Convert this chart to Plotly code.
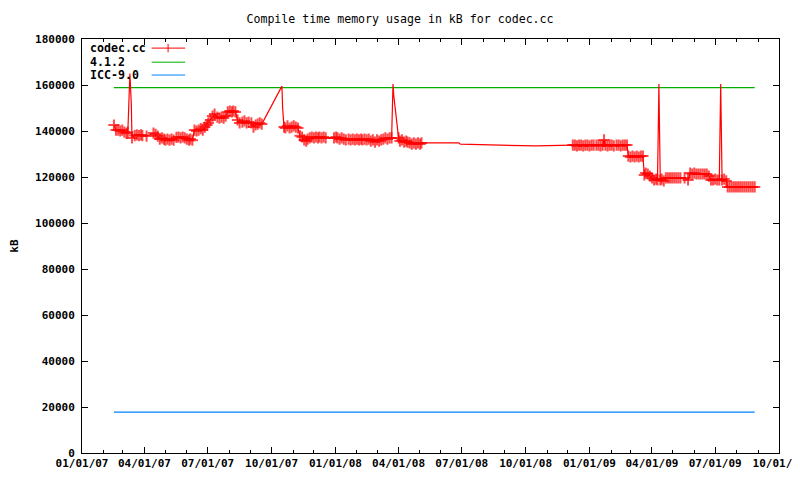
import pandas as pd
import plotly.graph_objects as go

# codec.cc compile memory samples (kB)
dates = [
    "2007-02-16", "2007-02-19", "2007-02-22", "2007-02-25", "2007-02-28", "2007-03-03", "2007-03-06", "2007-03-08",
    "2007-03-09", "2007-03-10", "2007-03-11", "2007-03-13", "2007-03-14", "2007-03-18", "2007-03-21", "2007-03-24",
    "2007-03-27", "2007-03-29", "2007-04-04", "2007-04-14", "2007-04-17", "2007-04-20", "2007-04-23", "2007-04-26",
    "2007-04-29", "2007-05-01", "2007-05-04", "2007-05-07", "2007-05-10", "2007-05-13", "2007-05-17", "2007-05-20",
    "2007-05-23", "2007-05-26", "2007-05-29", "2007-06-01", "2007-06-04", "2007-06-06", "2007-06-09", "2007-06-12",
    "2007-06-15", "2007-06-18", "2007-06-21", "2007-06-24", "2007-06-27", "2007-06-30", "2007-07-02", "2007-07-05",
    "2007-07-08", "2007-07-11", "2007-07-15", "2007-07-18", "2007-07-21", "2007-07-24", "2007-07-27", "2007-07-30",
    "2007-08-02", "2007-08-05", "2007-08-07", "2007-08-10", "2007-08-13", "2007-08-16", "2007-08-20", "2007-08-23",
    "2007-08-26", "2007-08-29", "2007-09-02", "2007-09-05", "2007-09-08", "2007-09-11", "2007-09-14", "2007-09-17",
    "2007-10-16", "2007-10-17", "2007-10-19", "2007-10-21", "2007-10-24", "2007-10-27", "2007-10-30", "2007-11-02",
    "2007-11-05", "2007-11-08", "2007-11-11", "2007-11-14", "2007-11-17", "2007-11-20", "2007-11-22", "2007-11-25",
    "2007-11-28", "2007-12-01", "2007-12-04", "2007-12-07", "2007-12-09", "2007-12-12", "2007-12-15", "2007-12-18",
    "2007-12-30", "2008-01-02", "2008-01-04", "2008-01-07", "2008-01-10", "2008-01-13", "2008-01-16", "2008-01-20",
    "2008-01-23", "2008-01-26", "2008-01-29", "2008-02-01", "2008-02-04", "2008-02-07", "2008-02-09", "2008-02-12",
    "2008-02-15", "2008-02-18", "2008-02-21", "2008-02-24", "2008-02-27", "2008-03-01", "2008-03-04", "2008-03-07",
    "2008-03-10", "2008-03-13", "2008-03-16", "2008-03-19", "2008-03-22", "2008-03-23", "2008-03-24", "2008-03-25",
    "2008-03-27", "2008-03-29", "2008-03-31", "2008-04-01", "2008-04-03", "2008-04-06", "2008-04-09", "2008-04-12",
    "2008-04-14", "2008-04-17", "2008-04-20", "2008-04-23", "2008-04-26", "2008-04-29", "2008-05-02", "2008-05-04",
    "2008-06-27", "2008-06-29", "2008-10-15",
    "2008-12-08", "2008-12-11", "2008-12-14", "2008-12-17", "2008-12-20", "2008-12-23", "2008-12-26", "2008-12-29",
    "2009-01-01", "2009-01-04", "2009-01-07", "2009-01-11", "2009-01-14", "2009-01-17", "2009-01-20", "2009-01-22",
    "2009-01-24", "2009-01-27", "2009-01-30", "2009-02-02", "2009-02-05", "2009-02-09", "2009-02-12", "2009-02-15",
    "2009-02-18", "2009-02-21", "2009-02-24", "2009-02-26", "2009-03-01", "2009-03-04", "2009-03-07", "2009-03-10",
    "2009-03-13", "2009-03-16", "2009-03-19", "2009-03-21", "2009-03-23", "2009-03-26", "2009-03-29", "2009-04-01",
    "2009-04-04", "2009-04-07", "2009-04-09", "2009-04-10", "2009-04-11", "2009-04-12", "2009-04-13", "2009-04-15",
    "2009-04-18", "2009-04-21", "2009-04-24", "2009-04-27", "2009-04-30", "2009-05-03", "2009-05-06", "2009-05-09",
    "2009-05-12", "2009-05-18", "2009-05-23", "2009-05-26", "2009-05-29", "2009-06-01", "2009-06-04", "2009-06-07",
    "2009-06-10", "2009-06-13", "2009-06-16", "2009-06-19", "2009-06-22", "2009-06-25", "2009-06-28", "2009-07-01",
    "2009-07-04", "2009-07-07", "2009-07-09", "2009-07-10", "2009-07-11", "2009-07-14", "2009-07-17", "2009-07-19",
    "2009-07-22", "2009-07-25", "2009-07-28", "2009-07-31", "2009-08-03", "2009-08-06", "2009-08-09", "2009-08-12",
    "2009-08-15", "2009-08-18", "2009-08-21", "2009-08-24", "2009-08-27",
]
mem_kb = [
    142600, 140400, 140400, 140000, 140400, 139500, 139000, 139500,
    152000, 165000, 165000, 152000, 137000, 138000, 138300, 138000,
    138300, 138000, 137800, 139100, 138500, 137800, 136500, 137000,
    136500, 136000, 136500, 136000, 136500, 136000, 137200, 137400,
    137000, 137400, 137000, 136500, 136000, 136500, 136000, 140400,
    140000, 140400, 141000, 140400, 141700, 142600, 143500, 144800,
    146500, 147400, 146000, 145600, 146000, 145600, 146500, 148300,
    148700, 148300, 148700, 148300, 144800, 143500, 143900, 144400,
    143500, 143900, 143500, 141700, 142600, 143000, 143500, 143000,
    159500, 150000, 141700, 141300, 142200, 141300, 141700, 142200,
    141700, 141300, 137900, 137400, 136100, 135600, 136500, 137000,
    137400, 137000, 137400, 137000, 137400, 137000, 137400, 137000,
    137000, 137400, 137000, 136500, 137000, 136500, 136100, 136500,
    136100, 136500, 136100, 136500, 136100, 136500, 136100, 136500,
    136100, 136500, 135600, 136100, 135200, 136100, 135600, 136100,
    136500, 137000, 136500, 137000, 137000, 160400, 160400, 155600,
    150400, 144800, 139600, 137000, 135600, 136100, 135200, 135600,
    135200, 134800, 134300, 134800, 134300, 134800, 134300, 134800,
    134800, 134300, 133500,
    133900, 133900, 133500, 133900, 133900, 133500, 133900, 133900,
    133500, 133900, 133900, 133900, 133900, 133500, 133900, 136100,
    133900, 133500, 133900, 133900, 133500, 133900, 133900, 133500,
    133900, 133900, 133900, 129100, 128700, 129100, 128700, 129100,
    128700, 129100, 129100, 120900, 121700, 121300, 120400, 119600,
    118700, 119100, 118700, 138700, 160400, 138700, 118700, 119100,
    118300, 119600, 119600, 119600, 119600, 119600, 119600, 119600,
    119600, 119600, 118700, 121700, 121300, 121700, 121300, 121300,
    121300, 121300, 121300, 121300, 120400, 118700, 118700, 119100,
    118700, 118700, 160400, 139100, 118700, 119100, 118300, 115700,
    115700, 115700, 115700, 115700, 115700, 115700, 115700, 115700,
    115700, 115700, 115700, 115700, 115700,
]

# samples on the spikes and in the 2008 gap show only as line, no point symbol
plain_dates = [
    "2007-03-09", "2007-03-10", "2007-03-11", "2007-03-13", "2007-10-16", "2007-10-17",
    "2008-03-23", "2008-03-24", "2008-03-25", "2008-03-27", "2008-03-29", "2008-03-31",
    "2008-06-27", "2008-06-29", "2008-10-15",
    "2009-04-10", "2009-04-11", "2009-04-12", "2009-07-09", "2009-07-10",
]

# reference compilers, flat over the whole period
ref_names = ["4.1.2", "ICC-9.0"]
ref_values = [158900, 17800]
ref_colors = ["#00b000", "#0080ff"]
ref_span = ["2007-02-16", "2009-08-27"]

legend_names = ["codec.cc"] + ref_names
legend_colors = ["#ff0000"] + ref_colors

df = pd.DataFrame({'date': dates, 'kB': mem_kb})
df['msize'] = [0 if d in plain_dates else 8 for d in df['date']]
df['date'] = pd.to_datetime(df['date'])

fig = go.Figure()
for name, val, col in zip(ref_names, ref_values, ref_colors):
    fig.add_trace(go.Scatter(name=name, x=pd.to_datetime(ref_span), y=[val, val],
                             mode='lines', line=dict(color=col, width=1.2)))
fig.add_trace(go.Scatter(
    name='codec.cc', x=df['date'], y=df['kB'], mode='lines+markers',
    line=dict(color='#ff0000', width=1.2),
    marker=dict(symbol='cross-thin', size=df['msize'], line=dict(color='#ff0000', width=2)),
))

mono = 'DejaVu Sans Mono'
axis_common = dict(showline=True, linecolor='black', linewidth=1, mirror='ticks',
                   ticks='inside', tickcolor='black', ticklen=6, showgrid=False,
                   zeroline=False, automargin=False,
                   tickfont=dict(family=mono, size=11, color='black', weight='bold'))

fig.update_xaxes(range=['2007-01-01', '2009-10-01'], dtick='M3', tick0='2007-01-01',
                 tickformat='%m/%d/%y',
                 minor=dict(dtick='M1', ticks='inside', ticklen=3, tickcolor='black'),
                 **axis_common)
fig.update_yaxes(range=[0, 180000], dtick=20000, tickformat='d', ticklabelstandoff=4,
                 title=dict(text='kB', standoff=14,
                            font=dict(family=mono, size=11, color='black', weight='bold')),
                 **axis_common)

# gnuplot-style key: text on the left, sample on the right
key_y = [0.978, 0.944, 0.913]
for name, col, ky in zip(legend_names, legend_colors, key_y):
    fig.add_annotation(xref='paper', yref='paper', x=0.009, y=ky, text=name, showarrow=False,
                       xanchor='left', yanchor='middle',
                       font=dict(family=mono, size=11.6, color='black', weight='bold'))
    fig.add_shape(type='line', xref='paper', yref='paper', x0=0.1, x1=0.148, y0=ky, y1=ky,
                  line=dict(color=col, width=1))
fig.add_shape(type='line', xref='paper', yref='paper', x0=0.1235, x1=0.1235,
              y0=key_y[0] - 0.01, y1=key_y[0] + 0.01, line=dict(color='#ff0000', width=1))

# page body adds an 8px offset, so margins are shifted to keep the plot box in place
fig.update_layout(
    width=800, height=472, showlegend=False,
    title=dict(text='Compile time memory usage in kB for codec.cc', x=(400 - 8 - 74) / 697,
               xref='paper', xanchor='center',
               y=1 - 11 / 472, yanchor='middle', font=dict(family=mono, size=11.6, color='black')),
    margin=dict(l=74, r=29, t=31, b=27),
    paper_bgcolor='white', plot_bgcolor='white',
)

fig.write_html("out.html")
